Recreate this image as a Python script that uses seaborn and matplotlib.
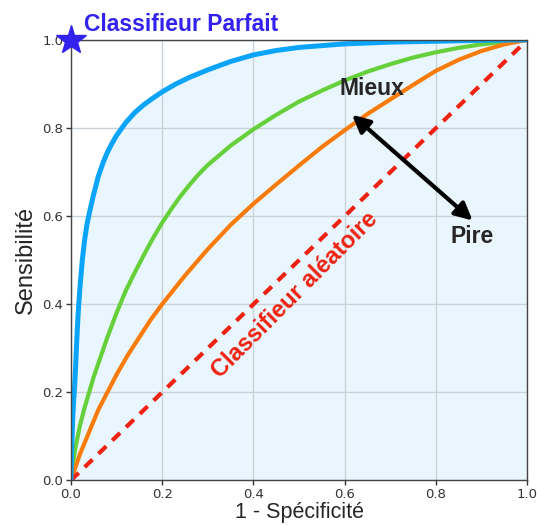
import numpy as np
import pandas as pd
import matplotlib
matplotlib.use("Agg")
import matplotlib.pyplot as plt
import seaborn as sns

# valeurs (1 - spécificité, sensibilité)
blue_x = [0, 0.002, 0.004, 0.006, 0.008, 0.01, 0.013, 0.016, 0.02, 0.025, 0.03, 0.035, 0.04, 0.05, 0.06,
          0.07, 0.08, 0.09, 0.10, 0.12, 0.14, 0.16, 0.18, 0.20, 0.23, 0.26, 0.30, 0.35, 0.40, 0.45,
          0.50, 0.60, 0.70, 0.80, 0.90, 1.0]
blue_y = [0, 0.08, 0.14, 0.18, 0.21, 0.25, 0.32, 0.38, 0.44, 0.50, 0.545, 0.58, 0.605, 0.65, 0.69,
          0.72, 0.745, 0.765, 0.783, 0.812, 0.835, 0.853, 0.868, 0.882, 0.90, 0.915, 0.932, 0.951, 0.966, 0.976,
          0.983, 0.991, 0.995, 0.997, 0.999, 1.0]

green_x = [0, 0.005, 0.01, 0.02, 0.03, 0.04, 0.05, 0.06, 0.08, 0.10, 0.12, 0.14, 0.16, 0.18, 0.20,
           0.22, 0.24, 0.26, 0.28, 0.30, 0.35, 0.40, 0.45, 0.50, 0.55, 0.60, 0.65, 0.70, 0.75, 0.80,
           0.85, 0.90, 0.95, 1.0]
green_y = [0, 0.04, 0.075, 0.125, 0.165, 0.20, 0.235, 0.265, 0.325, 0.38, 0.43, 0.472, 0.512, 0.55, 0.585,
           0.616, 0.645, 0.671, 0.695, 0.716, 0.76, 0.797, 0.83, 0.86, 0.885, 0.908, 0.928, 0.945, 0.96, 0.972,
           0.982, 0.99, 0.996, 1.0]

orange_x = [0, 0.01, 0.02, 0.04, 0.06, 0.08, 0.10, 0.125, 0.15, 0.175, 0.20, 0.25, 0.30, 0.35, 0.40,
            0.45, 0.50, 0.55, 0.60, 0.65, 0.70, 0.75, 0.80, 0.85, 0.90, 0.95, 1.0]
orange_y = [0, 0.03, 0.06, 0.11, 0.16, 0.20, 0.24, 0.285, 0.325, 0.365, 0.40, 0.465, 0.525, 0.58, 0.628,
            0.672, 0.715, 0.757, 0.795, 0.832, 0.865, 0.898, 0.93, 0.955, 0.975, 0.99, 1.0]

random_x = [0, 1]
random_y = [0, 1]

ticks = [0.0, 0.2, 0.4, 0.6, 0.8, 1.0]

sns.set_style("whitegrid")
plt.rcParams['font.family'] = ['DejaVu Sans']

fig = plt.figure(figsize=(5.37, 5.25), dpi=100)
ax = fig.add_axes([0.132, 0.085, 0.850, 0.839])
ax.set_axisbelow(False)

# zone sous la meilleure courbe
ax.fill_between(blue_x, blue_y, 0, color='#eaf6fd', zorder=1)

sns.lineplot(x=blue_x, y=blue_y, color='#0aa5fa', lw=3.6, ax=ax, zorder=4, sort=False)
sns.lineplot(x=green_x, y=green_y, color='#66d03a', lw=3.0, ax=ax, zorder=3, sort=False)
sns.lineplot(x=orange_x, y=orange_y, color='#f97c0a', lw=3.0, ax=ax, zorder=3, sort=False)
sns.lineplot(x=random_x, y=random_y, color='#ee2211', lw=3.0, ax=ax, zorder=3,
             linestyle=(0, (2.6, 2.0)), sort=False)

ax.set_xlim(0, 1)
ax.set_ylim(0, 1)
ax.set_xticks(ticks)
ax.set_yticks(ticks)
ax.set_xticklabels([f"{t:.1f}" for t in ticks])
ax.set_yticklabels([f"{t:.1f}" for t in ticks])
ax.tick_params(axis='both', labelsize=9.5, colors='#333333', length=3.5,
               width=1, direction='out', left=True, bottom=True, pad=2)
ax.grid(True, color='#c9d1d9', lw=1, zorder=2)
for s in ax.spines.values():
    s.set_color('#444444')
    s.set_linewidth(1.0)
    s.set_zorder(5)

ax.set_xlabel('1 - Spécificité', fontsize=15.5, family='Liberation Sans', labelpad=1)
ax.set_ylabel('Sensibilité', fontsize=17, family='Liberation Sans', labelpad=4)

# classifieur parfait
ax.plot([0], [1], marker='*', ms=22, color='#3322ee', clip_on=False, zorder=6)
ax.text(0.028, 1.008, 'Classifieur Parfait', color='#3322ee', fontsize=16.5,
        fontweight='bold', family='Liberation Sans', ha='left', va='bottom')

# classifieur aléatoire
ax.text(0.49, 0.42, 'Classifieur aléatoire', color='#ee2211', fontsize=17,
        fontweight='bold', family='Liberation Sans', rotation=45,
        ha='center', va='center', rotation_mode='anchor')

# mieux / pire
ax.annotate('', xy=(0.616, 0.83), xytext=(0.88, 0.59),
            arrowprops=dict(arrowstyle='<|-|>', color='black', lw=3,
                            mutation_scale=26, shrinkA=0, shrinkB=0), zorder=6)
ax.text(0.66, 0.89, 'Mieux', fontsize=16.5, fontweight='bold',
        family='Liberation Sans', ha='center', va='center')
ax.text(0.88, 0.553, 'Pire', fontsize=16.5, fontweight='bold',
        family='Liberation Sans', ha='center', va='center')

fig.savefig('out.png', dpi=100)
